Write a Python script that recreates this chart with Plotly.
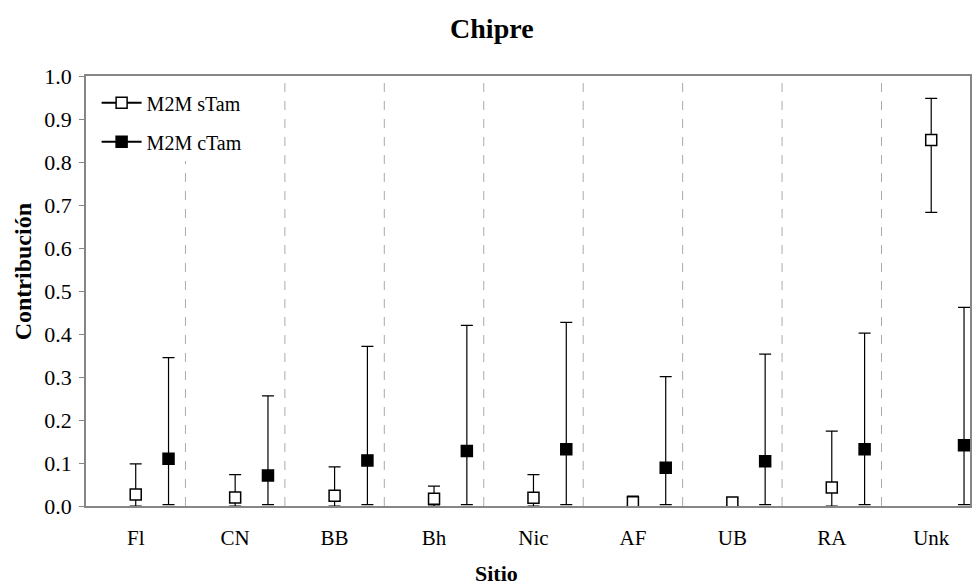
import plotly.graph_objects as go

sites = ["Fl", "CN", "BB", "Bh", "Nic", "AF", "UB", "RA", "Unk"]
s_val = [0.027, 0.020, 0.024, 0.017, 0.019, 0.009, 0.008, 0.043, 0.851]
s_hi = [0.098, 0.073, 0.091, 0.046, 0.073, 0.023, 0.018, 0.174, 0.948]
s_lo = [0.0, 0.0, 0.0, 0.0, 0.0, 0.0, 0.0, 0.0, 0.683]
c_val = [0.110, 0.071, 0.106, 0.128, 0.132, 0.089, 0.104, 0.132, 0.141]
c_hi = [0.345, 0.256, 0.371, 0.420, 0.427, 0.301, 0.353, 0.402, 0.462]
c_lo = [0.003, 0.003, 0.003, 0.003, 0.003, 0.003, 0.003, 0.003, 0.003]
names = ["M2M sTam", "M2M cTam"]
yticks = [0.0, 0.1, 0.2, 0.3, 0.4, 0.5, 0.6, 0.7, 0.8, 0.9, 1.0]

FONT = "Liberation Serif"
OFF = 0.33

xs = list(range(len(sites)))
xc = [x + OFF for x in xs]

fig = go.Figure()

fig.add_trace(go.Scatter(
    x=xs, y=s_val, mode="markers", showlegend=False,
    marker=dict(symbol="square", size=11, color="white", line=dict(color="black", width=1.5)),
    error_y=dict(type="data", symmetric=False,
                 array=[h - v for h, v in zip(s_hi, s_val)],
                 arrayminus=[v - l for v, l in zip(s_val, s_lo)],
                 color="black", thickness=1.2, width=6),
))
fig.add_trace(go.Scatter(
    x=xc, y=c_val, mode="markers", showlegend=False,
    marker=dict(symbol="square", size=11, color="black", line=dict(color="black", width=1.5)),
    error_y=dict(type="data", symmetric=False,
                 array=[h - v for h, v in zip(c_hi, c_val)],
                 arrayminus=[v - l for v, l in zip(c_val, c_lo)],
                 color="black", thickness=1.2, width=6),
))

# legend entries
fig.add_trace(go.Scatter(
    x=[None], y=[None], mode="lines+markers", name=names[0], legendgroup="a",
    line=dict(color="black", width=2),
    marker=dict(symbol="square", size=11, color="white", line=dict(color="black", width=1.5)),
))
fig.add_trace(go.Scatter(
    x=[None], y=[None], mode="lines+markers", name=names[1], legendgroup="b",
    line=dict(color="black", width=2),
    marker=dict(symbol="square", size=11, color="black", line=dict(color="black", width=1.5)),
))

for i in range(len(sites) - 1):
    fig.add_shape(type="line", xref="x", yref="paper", x0=i + 0.5, x1=i + 0.5, y0=0, y1=1,
                  line=dict(color="#aaaaaa", width=1, dash="dash"), layer="below")

fig.update_layout(
    width=972, height=588,
    margin=dict(l=86, r=0, t=76, b=82),
    paper_bgcolor="white", plot_bgcolor="white",
    font=dict(family=FONT, size=21, color="black"),
    title=dict(text="<b>Chipre</b>", x=0.506, xanchor="center", y=0.952, yanchor="middle",
               font=dict(family=FONT, size=28, color="black")),
    showlegend=True,
    legend=dict(x=0.012, y=0.983, xanchor="left", yanchor="top", bgcolor="white",
                font=dict(family=FONT, size=20), tracegroupgap=10, itemwidth=40),
    xaxis=dict(range=[-0.5, 8.39], tickmode="array", tickvals=xs, ticktext=sites,
               showgrid=False, zeroline=False, showline=True, linecolor="#868686", linewidth=1.5,
               mirror=True, ticks="", ticklabelstandoff=12, tickfont=dict(family=FONT, size=21)),
    yaxis=dict(range=[0, 1.0], tickmode="array", tickvals=yticks,
               ticktext=[f"{v:.1f}" for v in yticks],
               showgrid=False, zeroline=False, showline=True, linecolor="#868686", linewidth=1.5,
               mirror=True, ticks="outside", ticklen=5, tickcolor="#868686",
               ticklabelstandoff=3, tickfont=dict(family=FONT, size=22)),
)

fig.add_annotation(text="<b>Contribución</b>", xref="paper", yref="paper",
                   x=-0.071, y=0.544, xanchor="center", yanchor="middle",
                   textangle=-90, showarrow=False,
                   font=dict(family=FONT, size=24, color="black"))
fig.add_annotation(text="<b>Sitio</b>", xref="paper", yref="paper",
                   x=0.464, y=-0.158, xanchor="center", yanchor="middle",
                   showarrow=False,
                   font=dict(family=FONT, size=22, color="black"))

fig.write_html("out.html")
